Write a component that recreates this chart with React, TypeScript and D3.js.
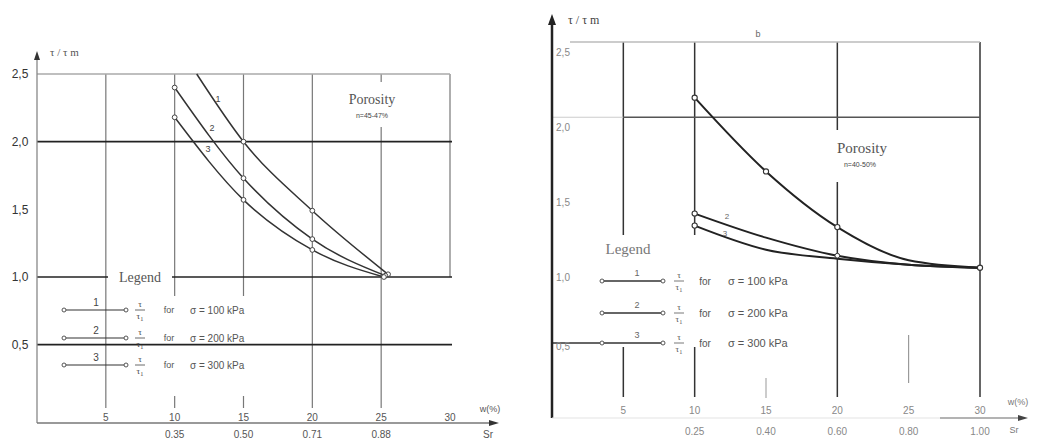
import React from 'react';
import * as d3 from 'd3';

// shared x ticks (moisture w, %)
const wTicks = [5, 10, 15, 20, 25, 30];

// left chart
const leftYTicks = [0.5, 1.0, 1.5, 2.0, 2.5];
const leftHLines = [2.0, 1.0, 0.5];
const leftSrW = [10, 15, 20, 25];
const leftSrLabels = ['0.35', '0.50', '0.71', '0.88'];
const leftW1 = [11.6, 15, 20, 25.5];
const leftT1 = [2.5, 2.0, 1.49, 1.02];
const leftW2 = [10, 15, 20, 25.3];
const leftT2 = [2.4, 1.73, 1.28, 1.01];
const leftW3 = [10, 15, 20, 25.2];
const leftT3 = [2.18, 1.57, 1.2, 1.0];

// right chart
const rightYTicks = [0.5, 1.0, 1.5, 2.0, 2.5];
const rightSrW = [10, 15, 20, 25, 30];
const rightSrLabels = ['0.25', '0.40', '0.60', '0.80', '1.00'];
const rightW = [10, 15, 20, 25, 30];
const rightT1 = [2.13, 1.64, 1.27, 1.05, 1.0];
const rightT2 = [1.36, 1.2, 1.08, 1.02, 1.0];
const rightT3 = [1.28, 1.12, 1.06, 1.02, 1.0];

// legend
const curveIds = ['1', '2', '3'];
const pressures = ['100', '200', '300'];

const zip = (a: number[], b: number[]) => a.map((v, i) => [v, b[i]] as [number, number]);
const fmt = (v: number) => v.toFixed(1).replace('.', ',');

const SANS = 'Liberation Sans, Arial, sans-serif';
const SERIF = 'Liberation Serif, Times New Roman, serif';

export default function App() {
  const xL = d3.scaleLinear().domain([0, 30]).range([37, 450]);
  const yL = d3.scaleLinear().domain([1.0, 2.5]).range([277, 74]);
  const xR = d3.scaleLinear().domain([0, 30]).range([552, 980]);
  const yR = d3.scaleLinear().domain([0.5, 2.5]).range([343, 42]);

  const lineL = d3.line<[number, number]>()
    .x(d => xL(d[0]))
    .y(d => yL(d[1]))
    .curve(d3.curveMonotoneX);
  const lineR = d3.line<[number, number]>()
    .x(d => xR(d[0]))
    .y(d => yR(d[1]))
    .curve(d3.curveMonotoneX);

  const leftSeries = [zip(leftW1, leftT1), zip(leftW2, leftT2), zip(leftW3, leftT3)];
  const rightSeries = [zip(rightW, rightT1), zip(rightW, rightT2), zip(rightW, rightT3)];

  const leftRows = [310, 338, 365];
  const rightRows = [281, 313, 343];

  const fraction = (x: number, y: number, size: number, color: string) => (
    <g fill={color} fontFamily={SERIF} fontSize={size} textAnchor="middle">
      <text x={x} y={y - 3}>τ</text>
      <line x1={x - 5} x2={x + 5} y1={y} y2={y} stroke={color} strokeWidth={0.8} />
      <text x={x} y={y + size}>τ<tspan fontSize={size * 0.7} dy={2}>1</tspan></text>
    </g>
  );

  return (
    <svg width={1038} height={439} style={{ position: 'absolute', left: 0, top: 0, background: '#fff' }}>
      {/* ================= LEFT CHART ================= */}
      <g>
        {/* vertical grid */}
        {wTicks.slice(0, 5).map(w => (
          <line key={w} x1={xL(w)} x2={xL(w)} y1={yL(2.5)} y2={408} stroke="#777" strokeWidth={1.2} />
        ))}
        <line x1={xL(30)} x2={xL(30)} y1={yL(2.5)} y2={yL(1.0)} stroke="#777" strokeWidth={1.2} />

        {/* white patches (porosity box, legend boxes) */}
        <rect x={314} y={82} width={116} height={45} fill="#fff" />
        <rect x={153} y={296} width={102} height={100} fill="#fff" />

        {/* horizontal grid */}
        <line x1={xL(0)} x2={xL(30)} y1={yL(2.5)} y2={yL(2.5)} stroke="#aaa" strokeWidth={1.5} />
        {leftHLines.map(v => (
          <line key={v} x1={xL(0)} x2={xL(30) + 2} y1={yL(v)} y2={yL(v)} stroke="#222" strokeWidth={1.6} />
        ))}
        <rect x={108} y={266} width={64} height={22} fill="#fff" />

        {/* axes */}
        <line x1={xL(0)} x2={xL(0)} y1={58} y2={423} stroke="#888" strokeWidth={1.3} />
        <path d={`M${xL(0)},51 L${xL(0) - 3},60 L${xL(0) + 3},60 Z`} fill="#333" />
        <line x1={xL(0)} x2={492} y1={423} y2={423} stroke="#777" strokeWidth={1.3} />
        <path d="M499,423 L489,420 L489,426 Z" fill="#333" />

        {/* y tick labels */}
        {leftYTicks.map(v => (
          <text key={v} x={20} y={yL(v)} dy="0.35em" textAnchor="middle" fontFamily={SANS} fontSize={12} fill="#333">
            {fmt(v)}
          </text>
        ))}
        <text x={50} y={56} fontFamily={SERIF} fontSize={11} fill="#555">τ / τ m</text>

        {/* x tick labels */}
        {wTicks.map(w => (
          <text key={w} x={xL(w)} y={417} dy="0.35em" textAnchor="middle" fontFamily={SANS} fontSize={10} fill="#555">
            {w}
          </text>
        ))}
        {leftSrW.map((w, i) => (
          <text key={w} x={xL(w)} y={434} dy="0.35em" textAnchor="middle" fontFamily={SANS} fontSize={10} fill="#555">
            {leftSrLabels[i]}
          </text>
        ))}
        <text x={490} y={409} textAnchor="middle" fontFamily={SANS} fontSize={9} fill="#555" dy="0.35em">w(%)</text>
        <text x={488} y={434} textAnchor="middle" fontFamily={SANS} fontSize={10} fill="#555" dy="0.35em">Sr</text>

        {/* curves */}
        {leftSeries.map((s, i) => (
          <g key={i}>
            <path d={lineL(s) ?? ''} fill="none" stroke="#333" strokeWidth={1.5} />
            {s.slice(i === 0 ? 1 : 0).map((d, j) => (
              <circle key={j} cx={xL(d[0])} cy={yL(d[1])} r={2.4} fill="#fff" stroke="#444" strokeWidth={1} />
            ))}
          </g>
        ))}
        <text x={218} y={102} textAnchor="middle" fontFamily={SANS} fontSize={9} fill="#444">1</text>
        <text x={212} y={131} textAnchor="middle" fontFamily={SANS} fontSize={9} fill="#444">2</text>
        <text x={208} y={152} textAnchor="middle" fontFamily={SANS} fontSize={9} fill="#444">3</text>

        {/* porosity */}
        <text x={372} y={104} textAnchor="middle" fontFamily={SERIF} fontSize={14} fill="#555">Porosity</text>
        <text x={372} y={118} textAnchor="middle" fontFamily={SANS} fontSize={7} fill="#444">n=45-47%</text>

        {/* legend */}
        <text x={140} y={282} textAnchor="middle" fontFamily={SERIF} fontSize={14} fill="#555">Legend</text>
        {leftRows.map((y, i) => (
          <g key={i}>
            <line x1={64} x2={126} y1={y} y2={y} stroke="#333" strokeWidth={1.2} />
            <circle cx={64} cy={y} r={2} fill="#fff" stroke="#555" />
            <circle cx={126} cy={y} r={2} fill="#fff" stroke="#555" />
            <text x={96} y={y - 4} textAnchor="middle" fontFamily={SANS} fontSize={10} fill="#444">{curveIds[i]}</text>
            {fraction(140, y, 9, '#444')}
            <text x={169} y={y} dy="0.35em" textAnchor="middle" fontFamily={SANS} fontSize={9} fill="#555">for</text>
            <text x={190} y={y} dy="0.35em" fontFamily={SANS} fontSize={10} fill="#555">σ = {pressures[i]} kPa</text>
          </g>
        ))}
      </g>

      {/* ================= RIGHT CHART ================= */}
      <g>
        {/* vertical grid */}
        {[5, 10, 20, 30].map(w => (
          <line key={w} x1={xR(w)} x2={xR(w)} y1={yR(2.5)} y2={397} stroke="#333" strokeWidth={1.5} />
        ))}
        <line x1={xR(15)} x2={xR(15)} y1={378} y2={398} stroke="#999" strokeWidth={1} />
        <line x1={xR(25)} x2={xR(25)} y1={335} y2={383} stroke="#888" strokeWidth={1} />

        {/* white patches */}
        <rect x={790} y={130} width={145} height={52} fill="#fff" />
        <rect x={594} y={235} width={132} height={112} fill="#fff" />

        {/* horizontal grid */}
        <line x1={570} x2={xR(30)} y1={yR(2.5)} y2={yR(2.5)} stroke="#bbb" strokeWidth={1.3} />
        <line x1={xR(0)} x2={xR(5)} y1={yR(2.0)} y2={yR(2.0)} stroke="#ccc" strokeWidth={1.2} />
        <line x1={xR(5)} x2={xR(30)} y1={yR(2.0)} y2={yR(2.0)} stroke="#555" strokeWidth={1.5} />
        <line x1={xR(0)} x2={600} y1={yR(0.5)} y2={yR(0.5)} stroke="#333" strokeWidth={1.4} />

        {/* axes */}
        <line x1={xR(0)} x2={xR(0)} y1={22} y2={418} stroke="#222" strokeWidth={2.5} />
        <path d={`M${xR(0)},14 L${xR(0) - 4},25 L${xR(0) + 4},25 Z`} fill="#222" />
        <line x1={xR(0)} x2={1022} y1={418} y2={418} stroke="#e4e4e4" strokeWidth={1.2} />
        <line x1={940} x2={1020} y1={418} y2={418} stroke="#777" strokeWidth={1.2} />
        <path d="M1028,418 L1018,415 L1018,421 Z" fill="#444" />

        {/* y tick labels */}
        {rightYTicks.map(v => (
          <text key={v} x={563} y={yR(v) + (v === 0.5 ? 3 : 10)} dy="0.35em" textAnchor="middle" fontFamily={SANS} fontSize={10} fill="#888">
            {fmt(v)}
          </text>
        ))}
        <text x={568} y={24} fontFamily={SERIF} fontSize={12} fill="#444">τ / τ m</text>
        <text x={758} y={37} textAnchor="middle" fontFamily={SANS} fontSize={9} fill="#666">b</text>

        {/* x tick labels */}
        {wTicks.map(w => (
          <text key={w} x={xR(w)} y={410} dy="0.35em" textAnchor="middle" fontFamily={SANS} fontSize={10} fill="#888">
            {w}
          </text>
        ))}
        {rightSrW.map((w, i) => (
          <text key={w} x={xR(w)} y={431} dy="0.35em" textAnchor="middle" fontFamily={SANS} fontSize={10} fill="#888">
            {rightSrLabels[i]}
          </text>
        ))}
        <text x={1018} y={402} textAnchor="middle" fontFamily={SANS} fontSize={9} fill="#777" dy="0.35em">w(%)</text>
        <text x={1014} y={430} textAnchor="middle" fontFamily={SANS} fontSize={9} fill="#777" dy="0.35em">Sr</text>

        {/* curves */}
        {rightSeries.map((s, i) => (
          <g key={i}>
            <path d={lineR(s) ?? ''} fill="none" stroke="#222" strokeWidth={2} />
            {s.slice(0, i === 0 ? 3 : 1).map((d, j) => (
              <circle key={j} cx={xR(d[0])} cy={yR(d[1])} r={2.6} fill="#fff" stroke="#333" strokeWidth={1.1} />
            ))}
          </g>
        ))}
        <circle cx={xR(30)} cy={yR(1.0)} r={2.6} fill="#fff" stroke="#333" strokeWidth={1.1} />
        <circle cx={xR(20)} cy={yR(rightT2[2])} r={2.4} fill="#fff" stroke="#333" strokeWidth={1} />
        <text x={727} y={219} textAnchor="middle" fontFamily={SANS} fontSize={8} fill="#666">2</text>
        <text x={725} y={236} textAnchor="middle" fontFamily={SANS} fontSize={8} fill="#666">3</text>

        {/* porosity */}
        <text x={862} y={153} textAnchor="middle" fontFamily={SERIF} fontSize={15} fill="#555">Porosity</text>
        <text x={860} y={167} textAnchor="middle" fontFamily={SANS} fontSize={7} fill="#444">n=40-50%</text>

        {/* legend */}
        <text x={628} y={254} textAnchor="middle" fontFamily={SERIF} fontSize={15} fill="#777">Legend</text>
        {rightRows.map((y, i) => (
          <g key={i}>
            <line x1={602} x2={661} y1={y} y2={y} stroke="#333" strokeWidth={1.4} />
            <circle cx={602} cy={y} r={2} fill="#fff" stroke="#555" />
            <circle cx={663} cy={y} r={2} fill="#fff" stroke="#555" />
            <text x={637} y={y - 5} textAnchor="middle" fontFamily={SANS} fontSize={9} fill="#666">{curveIds[i]}</text>
            {fraction(679, y, 9, '#555')}
            <text x={705} y={y} dy="0.35em" textAnchor="middle" fontFamily={SANS} fontSize={10} fill="#555">for</text>
            <text x={728} y={y} dy="0.35em" fontFamily={SANS} fontSize={11} fill="#555">σ = {pressures[i]} kPa</text>
          </g>
        ))}
      </g>
    </svg>
  );
}
